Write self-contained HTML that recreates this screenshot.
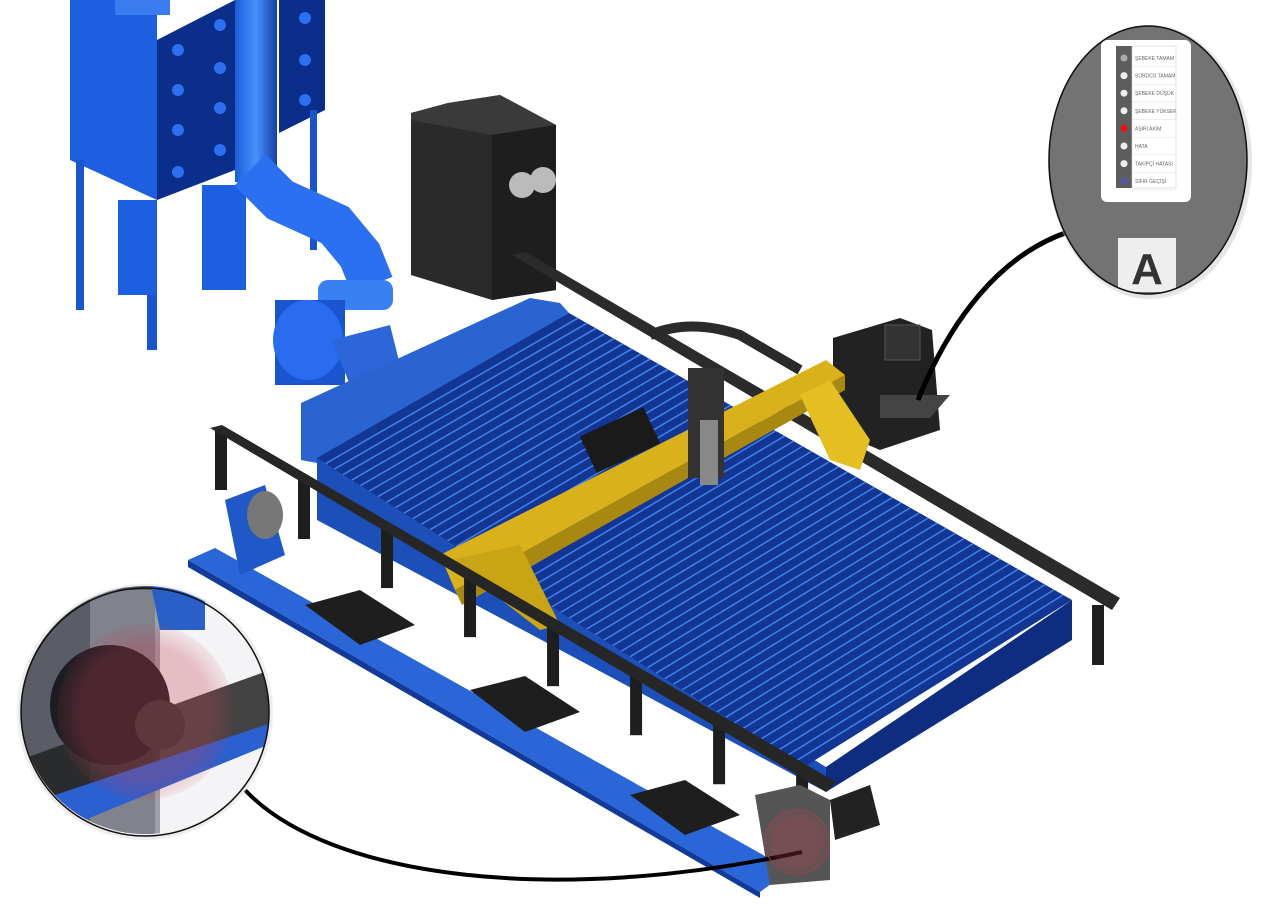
<!DOCTYPE html>
<html><head><meta charset="utf-8"><style>
html,body{margin:0;padding:0;background:#fff;width:1280px;height:907px;overflow:hidden}
svg{display:block}
text{font-family:"Liberation Sans","DejaVu Sans",sans-serif}
</style></head><body>
<svg id="s" width="1280" height="907" viewBox="0 0 1280 907">
<defs>
<radialGradient id="rg" cx="0.5" cy="0.5" r="0.5"><stop offset="0.75" stop-color="#c04050" stop-opacity="0.3"/><stop offset="1" stop-color="#c04050" stop-opacity="0.08"/></radialGradient>
<linearGradient id="pipe" x1="0" x2="1"><stop offset="0" stop-color="#1a5fd8"/><stop offset="0.5" stop-color="#4a90ff"/><stop offset="1" stop-color="#1340a8"/></linearGradient>
<clipPath id="cl"><circle cx="145" cy="710" r="124"/></clipPath>
<clipPath id="cr"><ellipse cx="1148" cy="160" rx="99" ry="134"/></clipPath>
</defs>

<g>
<polygon points="70,0 157,0 157,200 70,160" fill="#1c5fe0"/>
<polygon points="157,40 235,0 235,170 157,200" fill="#0a2e8a"/>
<polygon points="279,0 325,0 325,110 279,133" fill="#0a2e8a"/>
<rect x="115" y="0" width="55" height="15" fill="#3a7cf0"/>
<g fill="#2c6ff0">
<circle cx="178" cy="50" r="6"/><circle cx="178" cy="90" r="6"/><circle cx="178" cy="130" r="6"/><circle cx="178" cy="172" r="6"/>
<circle cx="220" cy="25" r="6"/><circle cx="220" cy="68" r="6"/><circle cx="220" cy="108" r="6"/><circle cx="220" cy="150" r="6"/>
<circle cx="305" cy="18" r="6"/><circle cx="305" cy="60" r="6"/><circle cx="305" cy="100" r="6"/>
</g>
<rect x="76" y="160" width="8" height="150" fill="#1a55d0"/>
<rect x="147" y="200" width="10" height="150" fill="#1a55d0"/>
<rect x="310" y="110" width="7" height="140" fill="#1a55d0"/>
<rect x="118" y="200" width="38" height="95" fill="#1c5fe0"/>
<rect x="202" y="185" width="44" height="105" fill="#1c5fe0"/>
<rect x="235" y="0" width="42" height="182" fill="url(#pipe)"/>
<path d="M250,170 L280,200 L335,225 L360,255 L372,285" stroke="#2a70f0" stroke-width="44" fill="none"/>
<rect x="318" y="280" width="75" height="30" rx="10" fill="#3a80f5"/>
<path d="M275,300 L345,300 L345,385 L275,385 Z" fill="#1a55d0"/>
<ellipse cx="308" cy="340" rx="35" ry="40" fill="#2a6cf0"/>
<polygon points="332,340 390,325 400,365 350,385" fill="#2c66d8"/>
</g>

<g>
<polygon points="411,113 448,103 500,95 556,125 556,290 492,300 411,275" fill="#2a2a2a"/>
<polygon points="411,113 448,103 500,95 556,125 492,135 411,120" fill="#3a3a3a"/>
<polygon points="492,135 556,125 556,290 492,300" fill="#1e1e1e"/>
<circle cx="522" cy="185" r="13" fill="#bbb"/><circle cx="543" cy="180" r="13" fill="#bbb"/>
</g>

<polygon points="512,255 526,252 1120,598 1112,610" fill="#2b2b2b"/>

<g>
<polygon points="301,403 301,460 317,463 569,313 560,303 530,298" fill="#2a64d0"/>
<polygon points="317,458 317,520 826,792 826,767" fill="#1d4fb8"/>
<polygon points="826,767 1072,600 1072,640 826,792" fill="#0f2d80"/>
<polygon id="bed" points="317,458 569,313 1072,600 804,767" fill="#133593"/>
<g id="slats"></g>
</g>

<g>
<polygon points="833,338 900,318 932,330 940,430 880,450 833,430" fill="#222"/>
<rect x="885" y="325" width="35" height="35" fill="#333" stroke="#555"/>
<polygon points="880,395 950,395 930,418 880,418" fill="#444"/>
</g>

<g>
<path d="M650,335 Q690,318 740,335 L800,370" stroke="#2a2a2a" stroke-width="10" fill="none"/>
<polygon points="440,555 826,360 845,375 455,590" fill="#d9b21b"/>
<polygon points="455,590 845,375 845,390 462,605" fill="#a88810"/>
<polygon points="800,395 830,380 870,440 860,470 830,460" fill="#e3bf22"/>
<polygon points="450,560 520,545 560,625 540,630" fill="#c9a415"/>
<rect x="585" y="420" width="70" height="40" fill="#1a1a1a" transform="rotate(-25 620 440)"/>
<rect x="688" y="368" width="36" height="110" fill="#333"/>
<rect x="700" y="420" width="18" height="65" fill="#888"/>
</g>

<g id="legs"></g>
<polygon points="210,428 222,425 836,782 826,792" fill="#262626"/>

<g>
<polygon points="188,560 215,548 790,870 760,892" fill="#2a66d8"/>
<polygon points="188,560 760,892 760,898 188,567" fill="#123a9a"/>
<polygon points="225,500 265,485 285,555 240,575" fill="#2058c8"/>
<ellipse cx="265" cy="515" rx="18" ry="24" fill="#777"/>
<polygon points="305,605 360,590 415,625 360,645" fill="#1e1e1e"/>
<polygon points="470,690 525,676 580,712 525,732" fill="#1e1e1e"/>
<polygon points="630,795 685,780 740,815 685,835" fill="#1e1e1e"/>
<polygon points="755,795 800,785 830,800 830,880 770,885" fill="#555"/>
<polygon points="830,800 870,785 880,825 835,840" fill="#222"/>
</g>

<path d="M1068,232 C1000,255 950,320 918,400" stroke="#000" stroke-width="5" fill="none"/>
<path d="M245,790 C330,880 560,905 802,852" stroke="#000" stroke-width="4" fill="none"/>
<circle cx="797" cy="842" r="32" fill="url(#rg)" stroke="#a04050" stroke-width="1"/>

<g>
<circle cx="145" cy="712" r="128" fill="#ddd" opacity="0.5"/>
<g clip-path="url(#cl)">
<rect x="0" y="580" width="280" height="270" fill="#f4f4f6"/>
<rect x="15" y="580" width="140" height="260" fill="#5a5c66"/>
<rect x="90" y="590" width="70" height="250" fill="#8a8c96" opacity="0.8"/>
<polygon points="150,580 205,580 205,630 160,630" fill="#2a5fc8"/>
<polygon points="20,760 270,670 280,720 20,820" fill="#222" opacity="0.85"/>
<polygon points="40,800 280,720 280,740 60,830" fill="#2c5fd0"/>
<circle cx="110" cy="705" r="60" fill="#1c1c22"/>
<circle cx="160" cy="725" r="25" fill="#333"/>
<circle cx="145" cy="712" r="88" fill="url(#rg)"/>
</g>
<circle cx="145" cy="712" r="124" fill="none" stroke="#111" stroke-width="1.5"/>
</g>

<g>
<ellipse cx="1150" cy="162" rx="102" ry="137" fill="#ccc" opacity="0.5"/>
<g clip-path="url(#cr)">
<rect x="1040" y="20" width="220" height="290" fill="#737373"/>
<rect x="1101" y="40" width="90" height="162" rx="6" fill="#fff"/>
<rect x="1116" y="46" width="16" height="142" fill="#5d5d5d"/>
<rect x="1132" y="46" width="44" height="142" fill="#fff" stroke="#ccc" stroke-width="0.6"/>
<g id="leds"></g>
<rect x="1118" y="238" width="58" height="54" fill="#eee"/>
<text x="1147" y="284" font-size="44" font-weight="bold" fill="#333" text-anchor="middle">A</text>
</g>
<ellipse cx="1148" cy="160" rx="99" ry="134" fill="none" stroke="#111" stroke-width="1.5"/>
</g>
</svg>
<script>
const ledLabels=["ŞEBEKE TAMAM","SÜRÜCÜ TAMAM","ŞEBEKE DÜŞÜK","ŞEBEKE YÜKSEK","AŞIRI AKIM","HATA","TAKİPÇİ HATASI","SIFIR GEÇİŞİ"];
const ledColors=["#aaa","#eee","#eee","#eee","#e11","#eee","#eee","#55a"];
const NS="http://www.w3.org/2000/svg";
const leds=document.getElementById('leds');
ledLabels.forEach((l,i)=>{
  const y=58+i*17.6;
  const c=document.createElementNS(NS,'circle');
  c.setAttribute('cx',1124);c.setAttribute('cy',y);c.setAttribute('r',3.5);c.setAttribute('fill',ledColors[i]);
  
  
  leds.appendChild(c);
  const t=document.createElementNS(NS,'text');
  t.setAttribute('x',1135);t.setAttribute('y',y+2);t.setAttribute('font-size',5);t.setAttribute('fill','#666');
  t.textContent=l;
  
  
  leds.appendChild(t);
  const ln=document.createElementNS(NS,'line');
  ln.setAttribute('x1',1132);ln.setAttribute('x2',1176);ln.setAttribute('y1',y+8.8);ln.setAttribute('y2',y+8.8);ln.setAttribute('stroke','#ddd');ln.setAttribute('stroke-width',0.5);
  leds.appendChild(ln);
});
const slats=document.getElementById('slats');
const A=[317,458],B=[569,313],D=[804,767],C=[1072,600];
for(let i=1;i<56;i++){
  const f=i/56;
  const x1=A[0]+(D[0]-A[0])*f,y1=A[1]+(D[1]-A[1])*f,x2=B[0]+(C[0]-B[0])*f,y2=B[1]+(C[1]-B[1])*f;
  const l=document.createElementNS(NS,'line');
  l.setAttribute('x1',x1);l.setAttribute('y1',y1);l.setAttribute('x2',x2);l.setAttribute('y2',y2);
  l.setAttribute('stroke','#3d7ee8');l.setAttribute('stroke-width',1.6);
  
  
  slats.appendChild(l);
}
const legs=document.getElementById('legs');
for(let i=0;i<8;i++){
  const f=i/7.3;
  const x=220+(826-220)*f,y=430+(788-430)*f;
  const r=document.createElementNS(NS,'rect');
  r.setAttribute('x',x-5);r.setAttribute('y',y);r.setAttribute('width',12);r.setAttribute('height',60);r.setAttribute('fill','#1e1e1e');
  
  
  legs.appendChild(r);
}
const r2=document.createElementNS(NS,'rect');
r2.setAttribute('x',1092);r2.setAttribute('y',605);r2.setAttribute('width',12);r2.setAttribute('height',60);r2.setAttribute('fill','#1e1e1e');


legs.appendChild(r2);
</script>
</body></html>
